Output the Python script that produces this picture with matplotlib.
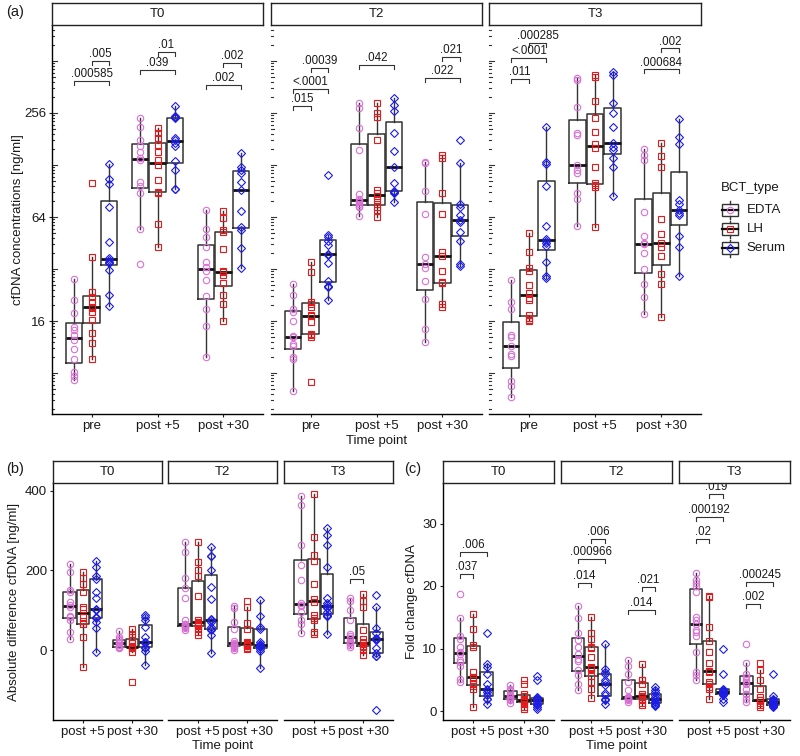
import numpy as np
import matplotlib.pyplot as plt
from matplotlib.patches import Rectangle

plt.rcParams['font.family'] = ['Liberation Sans', 'DejaVu Sans']

# ---------------- data ----------------
bct_types = ['EDTA', 'LH', 'Serum']
facets = ['T0', 'T2', 'T3']
time_a = ['pre', 'post +5', 'post +30']
time_bc = ['post +5', 'post +30']

# (a) cfDNA concentrations [ng/ml], (EDTA, LH, Serum) per facet / time point
conc_T0_pre = ([7.3, 7.7, 8.1, 9.6, 11.0, 12.4, 13.2, 14.2, 14.8, 17.9, 21.2, 27.9],
               [9.6, 11.9, 13.7, 16.2, 18.1, 19.0, 19.4, 20.7, 22.1, 23.6, 37.4, 100.3],
               [19.5, 22.6, 31.6, 34.5, 35.3, 36.1, 37.1, 46.0, 73.1, 99.4, 106, 129])
conc_T0_p5 = ([34.2, 54.5, 88.2, 96.8, 102, 136.8, 140, 152.2, 164.9, 178.7, 213, 238.6],
              [43.1, 58.1, 87.8, 89.3, 104.8, 128, 136.8, 152.9, 167.2, 182.6, 196.9, 210.4],
              [92.6, 93.3, 119.8, 135, 164.9, 172.4, 178.7, 183.4, 239.5, 243.8, 247.2, 281])
conc_T0_p30 = ([9.9, 15.0, 18.7, 22.3, 27.6, 31.2, 33.0, 35.1, 42.9, 48.8, 54.5, 70.3],
               [16.0, 20.0, 22.6, 26.4, 29.5, 30.7, 31.2, 41.6, 52.4, 53.8, 62.9, 69.3],
               [32.6, 42.2, 53.8, 56.2, 69.6, 91.7, 102.5, 115.1, 119.8, 125.1, 149.6])
conc_T2_pre = ([6.3, 9.7, 9.9, 11.5, 11.8, 12.9, 13.1, 15.9, 18.1, 18.9, 22.5, 26.2],
               [7.1, 12.9, 13.3, 13.5, 15.8, 17.1, 17.3, 19.4, 20.1, 20.7, 30.9, 35.3],
               [21.2, 25.1, 25.5, 27.3, 34.5, 38.6, 39.1, 44.1, 46.7, 48.8, 50.4, 112.1])
conc_T2_p5 = ([64.8, 72.8, 74.1, 76.1, 78.2, 79.3, 81.0, 86.7, 156.3, 210.4, 272.5, 293.6],
              [63.7, 70.3, 73.4, 76.1, 80.3, 84.7, 87.8, 91.7, 178.7, 243.8, 255, 293.6],
              [78.5, 87.8, 89.3, 90.9, 100.3, 125.1, 154.3, 195.4, 262.9, 284.9, 311.6])
conc_T2_p30 = ([12.1, 14.4, 21.5, 27.3, 32.6, 34.1, 37.7, 66.6, 90.9, 131, 133.7],
               [19.2, 20.1, 26.4, 27.0, 31.3, 38.1, 40.3, 66.6, 88.5, 140, 146.1],
               [33.4, 34.2, 46.7, 52.6, 60.1, 61.5, 65.7, 73.4, 76.1, 131, 178.7])
conc_T3_pre = ([5.8, 6.7, 7.2, 10.1, 10.3, 11.4, 12.9, 13.3, 18.8, 20.7, 27.6],
               [15.9, 16.2, 16.6, 17.3, 21.2, 21.8, 23.2, 25.9, 31.3, 32.6, 40.3, 51.5],
               [28.5, 29.1, 35.1, 43.5, 45.1, 46.7, 47.5, 56.8, 96.8, 129, 132.7, 213])
conc_T3_p5 = ([56.8, 81.4, 87.8, 115.5, 119.8, 128, 190.9, 195.4, 278.6, 397.6, 409.9],
              [55.8, 95.9, 98, 100.3, 125.1, 160.6, 169.4, 199.4, 239.5, 301.6, 415.3, 425],
              [84.7, 125.1, 140, 156.3, 163.4, 170.9, 213, 255, 293.6, 425, 443.9])
conc_T3_p30 = ([17.6, 22.1, 26.2, 31.9, 39.8, 44.5, 45.1, 49.7, 68.4, 136.8, 146.1, 158.5],
               [16.9, 26.2, 29.9, 38.1, 42.7, 45.4, 51.0, 62.3, 124.2, 144.9, 170.9],
               [29.3, 43.1, 49.9, 65.7, 67.2, 70.3, 76.1, 80.3, 169.4, 186.6, 236.4])

# (b) absolute difference cfDNA [ng/ml]
diff_T0_p5 = ([26.8, 46, 75, 82, 86.4, 108, 112, 120, 145, 150, 197, 215.6],
              [-42, 32, 65.4, 66, 74, 84, 104, 109, 145, 165, 180, 197],
              [-4.2, 54.5, 71.3, 80, 84, 100, 103, 130, 146.8, 178, 185, 210, 224])
diff_T0_p30 = ([4.2, 8.4, 8.4, 8.4, 12.6, 16.8, 16.8, 21, 25.2, 26.8, 33.5, 48.6],
               [-79.7, -4.2, 4.2, 8.4, 8.4, 8.4, 8.4, 16.8, 25, 32, 40, 54],
               [-37.7, -1.7, 4.2, 8.4, 16.8, 21, 21, 33.5, 58.7, 75.5, 84, 88])
diff_T2_p5 = ([50.3, 55, 58.7, 61, 63, 65, 66, 75.5, 130, 155, 182, 247.4, 271],
              [37.7, 46, 54.5, 61, 63, 66, 68.8, 71.3, 75.5, 136, 185, 200, 222, 272.6],
              [-8.4, 37.7, 50.3, 52, 58.7, 71.3, 75.5, 77, 128.3, 159.4, 200, 236.5, 236.5, 260])
diff_T2_p30 = ([0, 4.2, 8.4, 10, 12.6, 15, 18, 22, 52.8, 71.3, 104.8, 110.7],
               [1.7, 5.9, 10.9, 13, 15, 16.8, 16.8, 21, 52, 67, 109, 124],
               [-46.1, -1.7, 2.5, 6.7, 10.9, 12, 15.1, 21, 52, 58.7, 86.4, 125])
diff_T3_p5 = ([42, 65.4, 75.5, 95, 110.7, 114, 117, 176, 215, 264, 365, 388],
              [40, 46, 75.5, 80, 88, 120, 128, 166, 225, 240, 283.5, 392.5],
              [39.4, 85.5, 86, 88, 96.5, 105, 107, 112, 119, 130, 210, 264, 289, 306])
diff_T3_p30 = ([8.4, 12.6, 16.8, 19, 21, 29.4, 34, 40, 75, 100, 124, 130],
               [-12.6, 0, 8.4, 10, 16.8, 18, 19, 26.8, 50, 107, 124, 141],
               [-151, -15.1, -14, -6.7, 4.2, 25.2, 28, 29.4, 43.6, 54.5, 107, 138])

# (c) fold change cfDNA
fold_T0_p5 = ([4.7, 5.1, 7.2, 7.9, 8.2, 9.2, 9.5, 10.3, 11.5, 12.0, 14.9, 18.7],
              [0.7, 3.6, 4.0, 4.3, 5.0, 5.3, 5.5, 6.3, 10.3, 10.5, 13.1, 15.5],
              [1.1, 1.9, 2.0, 2.6, 3.1, 3.4, 3.6, 4.3, 6.0, 7.1, 7.5, 12.5])
fold_T0_p30 = ([1.3, 1.8, 1.9, 2.0, 2.2, 2.3, 2.5, 2.6, 3.2, 3.3, 3.6, 4.2],
               [0.3, 0.7, 1.1, 1.5, 1.6, 1.8, 1.8, 2.0, 2.4, 2.8, 4.3, 5.0],
               [0.4, 0.7, 1.0, 1.2, 1.5, 1.7, 1.8, 2.0, 2.1, 2.3, 5.0, 5.6])
fold_T2_p5 = ([3.4, 4.3, 5.8, 6.5, 8.0, 8.4, 9.2, 10.3, 11.4, 12.5, 14.9, 16.8],
              [2.1, 3.5, 4.7, 5.6, 6.7, 6.9, 7.1, 8.7, 10.1, 10.3, 11.6, 12.5, 15.1],
              [1.1, 1.7, 2.0, 2.6, 2.9, 4.2, 4.6, 5.0, 5.9, 6.3, 6.7, 10.8])
fold_T2_p30 = ([1.5, 1.7, 1.9, 2.0, 2.1, 2.2, 2.2, 3.4, 4.7, 5.9, 7.2, 8.2],
               [1.0, 1.3, 1.8, 2.0, 2.3, 2.4, 2.4, 2.8, 4.4, 5.0, 5.0, 7.5],
               [0.8, 1.0, 1.2, 1.4, 1.5, 1.8, 2.0, 2.3, 2.6, 3.0, 3.4, 3.8])
fold_T3_p5 = ([5.0, 5.8, 6.3, 9.5, 12.0, 12.6, 12.9, 14.0, 14.5, 15.0, 19.0, 20.0, 20.5, 21.0, 22.1],
              [2.0, 3.5, 3.9, 4.3, 4.6, 6.2, 6.4, 7.7, 9.5, 11.2, 13.5, 18.2, 18.4],
              [1.5, 2.0, 2.6, 2.8, 2.9, 3.0, 3.1, 3.2, 3.4, 3.6, 6.0, 10.0])
fold_T3_p30 = ([1.5, 2.0, 2.8, 2.8, 3.6, 4.4, 4.7, 5.0, 5.5, 6.0, 7.7, 10.7],
               [0.7, 1.0, 1.3, 1.8, 1.8, 1.8, 1.8, 2.3, 3.6, 5.0, 6.5, 7.7],
               [0.6, 0.8, 0.9, 1.0, 1.1, 1.3, 1.5, 1.6, 1.8, 2.0, 2.4, 5.9])

# significance brackets: (time index, group 1, group 2, y level, label)
sig_a = [[(0, 0, 2, 392, '.000585'), (0, 1, 2, 512, '.005'), (1, 0, 2, 454, '.039'),
          (1, 1, 2, 575, '.01'), (2, 0, 2, 372, '.002'), (2, 1, 2, 497, '.002')],
         [(0, 0, 1, 281, '.015'), (0, 0, 2, 351, '<.0001'), (0, 1, 2, 465, '.00039'),
          (1, 0, 2, 485, '.042'), (2, 0, 2, 410, '.022'), (2, 1, 2, 542, '.021')],
         [(0, 0, 1, 403, '.011'), (0, 0, 2, 531, '<.0001'), (0, 1, 2, 648, '.000285'),
          (2, 0, 2, 458, '.000684'), (2, 1, 2, 606, '.002')]]
sig_b = [[], [], [(1, 0, 1, 178, '.05')]]
sig_c = [[(0, 0, 1, 21.9, '.037'), (0, 0, 2, 25.4, '.006')],
         [(0, 0, 1, 20.5, '.014'), (0, 0, 2, 24.3, '.000966'), (0, 1, 2, 27.6, '.006'),
          (1, 0, 2, 16.2, '.014'), (1, 1, 2, 19.9, '.021')],
         [(0, 0, 1, 27.5, '.02'), (0, 0, 2, 31.0, '.000192'), (0, 1, 2, 34.7, '.019'),
          (1, 0, 1, 17.1, '.002'), (1, 0, 2, 20.6, '.000245')]]

# ---------------- style ----------------
colors = ['#DA70D6', '#E41A1C', '#1C1CE6']
markers = ['o', 's', 'D']
msizes = [4.6, 4.0, 4.0]
box_col = '#333333'
txt_col = '#1a1a1a'
dodge = 0.8 / 3

W, H = 800, 756
fig = plt.figure(figsize=(8, 7.56), dpi=100)


def px_axes(x0, y0, x1, y1):
    return fig.add_axes([x0 / W, 1 - y1 / H, (x1 - x0) / W, (y1 - y0) / H])


def strip(x0, y0, x1, y1, label):
    s = px_axes(x0, y0, x1, y1)
    s.set_xticks([])
    s.set_yticks([])
    for sp in s.spines.values():
        sp.set_linewidth(1.0)
        sp.set_color('#222222')
    s.text(0.5, 0.5, label, ha='center', va='center', fontsize=9.5, color=txt_col,
           transform=s.transAxes)


def draw_groups(ax, groups_by_time, log=False):
    for ti, groups in enumerate(groups_by_time):
        for gi, vals in enumerate(groups):
            v = np.log2(vals) if log else np.asarray(vals, float)
            x = ti + (gi - 1) * dodge
            ax.plot(np.full(len(v), x), v, ls='none', marker=markers[gi], ms=msizes[gi],
                    mfc='none', mec=colors[gi], mew=0.8, zorder=3)
            ax.boxplot([v], positions=[x], widths=0.25, showfliers=False, showcaps=False,
                       manage_ticks=False, zorder=2,
                       boxprops=dict(color=box_col, lw=1.1),
                       whiskerprops=dict(color=box_col, lw=1.0),
                       medianprops=dict(color='#111111', lw=2.0))


def style_axes(ax, first, ticklabels, ntime):
    ax.set_xlim(-0.6, ntime - 0.4)
    for side in ['top', 'right']:
        ax.spines[side].set_visible(False)
    ax.spines['bottom'].set_linewidth(1.0)
    ax.spines['left'].set_linewidth(1.0)
    ax.set_xticks(range(ntime))
    ax.set_xticklabels(ticklabels)
    ax.tick_params(axis='both', length=2.2, width=0.8, labelsize=9.5, pad=2,
                   colors='#222222', labelcolor=txt_col)
    if not first:
        ax.spines['left'].set_visible(False)
        ax.tick_params(axis='y', left=False, labelleft=False)
    ax.patch.set_alpha(0)


def brackets(ax, sigs, log=False):
    y0, y1 = ax.get_ylim()
    hpx = ax.get_window_extent().height
    dpp = (y1 - y0) / hpx
    for ti, g1, g2, yv, label in sigs:
        y = np.log2(yv) if log else yv
        xa = ti + (g1 - 1) * dodge
        xb = ti + (g2 - 1) * dodge
        tip = 4 * dpp
        ax.plot([xa, xa, xb, xb], [y - tip, y, y, y - tip], color='#333333', lw=0.8,
                zorder=4, clip_on=False)
        ax.annotate(label, ((xa + xb) / 2, y), xytext=(0, 0.6), textcoords='offset points',
                    ha='center', va='bottom', fontsize=8.3, color=txt_col)


# ---------------- panel (a) ----------------
a_boxes = [(52, 25, 263, 414), (271, 25, 482, 414), (489, 25, 701, 414)]
a_data = [(conc_T0_pre, conc_T0_p5, conc_T0_p30),
          (conc_T2_pre, conc_T2_p5, conc_T2_p30),
          (conc_T3_pre, conc_T3_p5, conc_T3_p30)]
ylo_a, yhi_a = 2.212, 9.692
for i, (bx, data) in enumerate(zip(a_boxes, a_data)):
    ax = px_axes(*bx)
    draw_groups(ax, data, log=True)
    style_axes(ax, i == 0, time_a, 3)
    ax.set_ylim(ylo_a, yhi_a)
    ax.set_yticks([4, 6, 8])
    ax.set_yticklabels(['16', '64', '256'])
    # log ticks drawn inside the panel at the left edge
    wpx = bx[2] - bx[0]
    for k in range(2, 10):
        for m in range(1, 10):
            yv = k + np.log10(m)
            if ylo_a < yv < yhi_a:
                L = 5.0 if m == 1 else (3.4 if m == 5 else 1.8)
                ax.plot([0, L / wpx], [yv, yv], transform=ax.get_yaxis_transform(),
                        color='#333333', lw=0.8, clip_on=False)
    brackets(ax, sig_a[i], log=True)
    strip(bx[0], 3, bx[2], 24.5, facets[i])

fig.text(18 / W, 1 - 219.5 / H, 'cfDNA concentrations [ng/ml]', rotation=90,
         ha='center', va='center', fontsize=9.5, color=txt_col)
fig.text(376.5 / W, 1 - 441 / H, 'Time point', ha='center', va='center', fontsize=9.5,
         color=txt_col)
fig.text(6 / W, 1 - 12 / H, '(a)', ha='left', va='center', fontsize=10.5, color=txt_col)

# legend
lax = px_axes(712, 175, 800, 262)
lax.set_xlim(712, 800)
lax.set_ylim(262, 175)
lax.axis('off')
lax.text(721, 188, 'BCT_type', fontsize=9.5, va='center', color=txt_col)
for gi, (name, yk) in enumerate(zip(bct_types, [210, 229.3, 248.3])):
    lax.add_patch(Rectangle((722, yk - 6), 16, 12, fill=False, ec=box_col, lw=1.0))
    lax.plot([730, 730], [yk - 8.6, yk - 6], color=box_col, lw=1.0)
    lax.plot([730, 730], [yk + 6, yk + 8.6], color=box_col, lw=1.0)
    lax.plot([722, 738], [yk, yk], color='#111111', lw=1.6)
    lax.plot([730], [yk], marker=markers[gi], ms=msizes[gi], mfc='none', mec=colors[gi], mew=0.8)
    lax.text(746.5, yk, name, va='center', fontsize=9.5, color=txt_col)

# ---------------- panel (b) ----------------
b_boxes = [(53, 483, 162, 720), (168, 483, 277, 720), (284, 483, 393, 720)]
b_data = [(diff_T0_p5, diff_T0_p30), (diff_T2_p5, diff_T2_p30), (diff_T3_p5, diff_T3_p30)]
for i, (bx, data) in enumerate(zip(b_boxes, b_data)):
    ax = px_axes(*bx)
    draw_groups(ax, data)
    style_axes(ax, i == 0, time_bc, 2)
    ax.set_ylim(-176, 420)
    ax.set_yticks([0, 200, 400])
    brackets(ax, sig_b[i])
    strip(bx[0], 461, bx[2], 483, facets[i])

fig.text(14 / W, 1 - 601.5 / H, 'Absolute difference cfDNA [ng/ml]', rotation=90,
         ha='center', va='center', fontsize=9.5, color=txt_col)
fig.text(223 / W, 1 - 746 / H, 'Time point', ha='center', va='center', fontsize=9.5,
         color=txt_col)
fig.text(6 / W, 1 - 469 / H, '(b)', ha='left', va='center', fontsize=10.5, color=txt_col)

# ---------------- panel (c) ----------------
c_boxes = [(443, 483, 554, 720), (561, 483, 672, 720), (679, 483, 790, 720)]
c_data = [(fold_T0_p5, fold_T0_p30), (fold_T2_p5, fold_T2_p30), (fold_T3_p5, fold_T3_p30)]
for i, (bx, data) in enumerate(zip(c_boxes, c_data)):
    ax = px_axes(*bx)
    draw_groups(ax, data)
    style_axes(ax, i == 0, time_bc, 2)
    ax.set_ylim(-1.44, 36.48)
    ax.set_yticks([0, 10, 20, 30])
    brackets(ax, sig_c[i])
    strip(bx[0], 461, bx[2], 483, facets[i])

fig.text(412 / W, 1 - 601.5 / H, 'Fold change cfDNA', rotation=90,
         ha='center', va='center', fontsize=9.5, color=txt_col)
fig.text(616.5 / W, 1 - 746 / H, 'Time point', ha='center', va='center', fontsize=9.5,
         color=txt_col)
fig.text(404 / W, 1 - 469 / H, '(c)', ha='left', va='center', fontsize=10.5, color=txt_col)

fig.savefig('out.png', dpi=100)
